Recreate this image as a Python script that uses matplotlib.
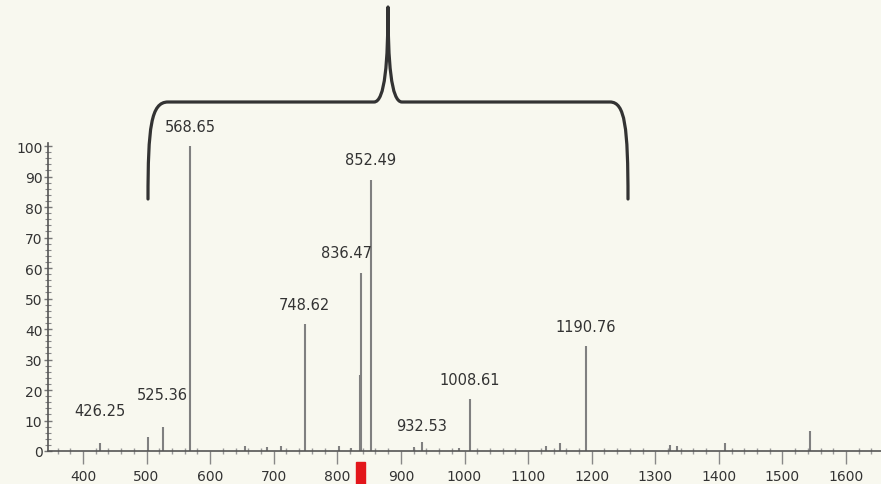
import numpy as np
import matplotlib.pyplot as plt
from matplotlib.path import Path
from matplotlib.patches import PathPatch, Rectangle
from matplotlib.ticker import MultipleLocator
from matplotlib.transforms import blended_transform_factory

# 标注的主峰 (m/z, 相对丰度)
peak_mz = [426.25, 525.36, 568.65, 748.62, 836.47, 852.49, 932.53, 1008.61, 1190.76]
peak_int = [2.5, 8.0, 100.0, 41.5, 58.5, 89.0, 3.0, 17.0, 34.5]

# 未标注的小峰
minor_mz = [502.5, 655.0, 690.0, 712.0, 802.0, 822.0, 835.0, 920.0, 991.0,
            1128.0, 1150.0, 1323.0, 1334.0, 1410.0, 1543.0]
minor_int = [4.5, 1.5, 1.2, 1.8, 1.5, 1.0, 25.0, 1.2, 1.0,
             1.5, 2.5, 2.0, 1.5, 2.5, 6.5]

# 标签抬高量 (相对丰度单位)
label_lift = {426.25: 8.3, 525.36: 8.0, 932.53: 2.8}
label_dx = {836.47: -22.0}

bg = '#f8f8ef'
fig = plt.figure(figsize=(8.81, 4.85), dpi=100, facecolor=bg)
ax = fig.add_axes([48 / 881, 33 / 485, 1 - 48 / 881, (452 - 144) / 485])
ax.set_facecolor(bg)

ax.vlines(minor_mz, 0, minor_int, color='#808080', linewidth=1.5)
ax.vlines(peak_mz, 0, peak_int, color='#808080', linewidth=1.5)

for mz, h in zip(peak_mz, peak_int):
    y = h + label_lift.get(mz, 4.0)
    ax.text(mz + label_dx.get(mz, 0.0), y, f'{mz:.2f}', ha='center', va='bottom',
            fontsize=10.5, color='#333333', clip_on=False)

ax.set_xlim(345, 1655)
ax.set_ylim(0, 101)

for s in ['top', 'right']:
    ax.spines[s].set_visible(False)
for s in ['left', 'bottom']:
    ax.spines[s].set_color('#555555')
    ax.spines[s].set_linewidth(1.2)

ax.xaxis.set_major_locator(MultipleLocator(100))
ax.xaxis.set_minor_locator(MultipleLocator(20))
ax.yaxis.set_major_locator(MultipleLocator(10))
ax.yaxis.set_minor_locator(MultipleLocator(2))
ax.tick_params(axis='x', which='major', direction='out', length=9, width=1,
               color='#888888', labelsize=10, labelcolor='#333333', pad=4)
ax.tick_params(axis='x', which='minor', direction='inout', length=5, width=1,
               color='#999999')
ax.tick_params(axis='y', which='major', direction='inout', length=6, width=1,
               color='#777777', labelsize=10, labelcolor='#333333', pad=1)
ax.tick_params(axis='y', which='minor', direction='inout', length=4, width=0.8,
               color='#888888')

# 光标位置的红色标记
trans = blended_transform_factory(ax.transData, ax.transAxes)
ax.add_patch(Rectangle((836.47 - 7.5, -0.11), 15, 0.075, transform=trans,
                       color='#e3161b', clip_on=False))

# 顶部大括号 (像素坐标 -> 图像比例坐标)
pts = [(148, 200), (148, 128), (151, 103), (168, 103),
       (374, 103),
       (385, 103), (388, 62), (388, 8),
       (388, 62), (391, 103), (402, 103),
       (610, 103),
       (625, 103), (628, 128), (628, 200)]
codes = [Path.MOVETO, Path.CURVE4, Path.CURVE4, Path.CURVE4,
         Path.LINETO,
         Path.CURVE4, Path.CURVE4, Path.CURVE4,
         Path.CURVE4, Path.CURVE4, Path.CURVE4,
         Path.LINETO,
         Path.CURVE4, Path.CURVE4, Path.CURVE4]
verts = [(x / 881, 1 - y / 485) for x, y in pts]
fig.patches.append(PathPatch(Path(verts, codes), transform=fig.transFigure,
                             facecolor='none', edgecolor='#333333', linewidth=2.3,
                             capstyle='round', joinstyle='round'))

plt.savefig('out.png', dpi=100, facecolor=bg)
